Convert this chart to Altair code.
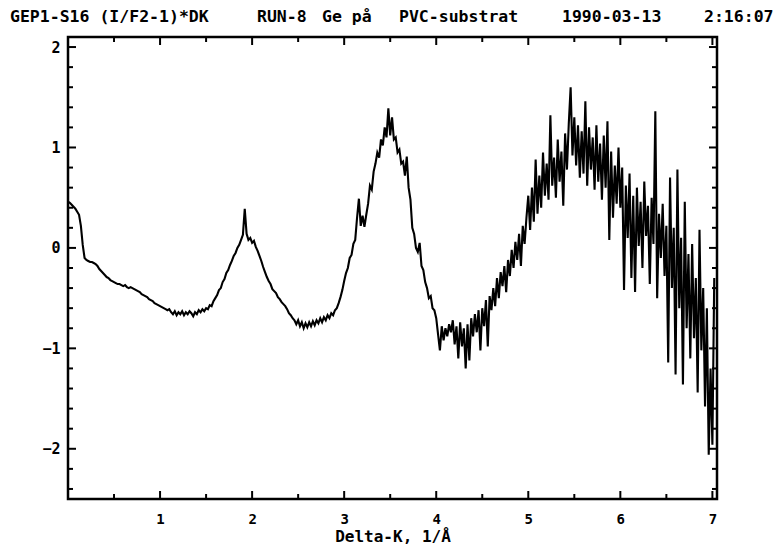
import altair as alt
import pandas as pd

# ---- data (step 0.02 in Delta-K) ----
seg_a = [0.46, 0.45, 0.43, 0.41, 0.39, 0.36, 0.33, 0.22, 0.03, -0.10,
         -0.12, -0.13, -0.14, -0.14, -0.15, -0.16, -0.18, -0.21, -0.23, -0.25,
         -0.27, -0.29, -0.30, -0.32, -0.33, -0.34, -0.35, -0.36, -0.36, -0.37,
         -0.38, -0.37, -0.39, -0.40, -0.39, -0.40, -0.41, -0.42, -0.43, -0.44,
         -0.46, -0.47, -0.48, -0.49, -0.51, -0.52, -0.53, -0.55, -0.56, -0.57]
seg_b = [-0.58, -0.59, -0.60, -0.61, -0.62, -0.61, -0.64, -0.66, -0.63, -0.67,
         -0.64, -0.66, -0.63, -0.67, -0.64, -0.66, -0.63, -0.65, -0.68, -0.64,
         -0.66, -0.62, -0.64, -0.61, -0.63, -0.60, -0.61, -0.57, -0.58, -0.53,
         -0.50, -0.47, -0.42, -0.40, -0.34, -0.31, -0.25, -0.22, -0.17, -0.13,
         -0.08, -0.05, 0.00, 0.03, 0.08, 0.13, 0.39, 0.14, 0.08, 0.10]
seg_c = [0.05, 0.07, 0.01, -0.03, -0.08, -0.13, -0.19, -0.24, -0.29, -0.33,
         -0.36, -0.41, -0.43, -0.45, -0.49, -0.51, -0.54, -0.56, -0.58, -0.61,
         -0.65, -0.67, -0.70, -0.72, -0.76, -0.72, -0.78, -0.74, -0.80, -0.75,
         -0.79, -0.74, -0.78, -0.73, -0.77, -0.72, -0.75, -0.70, -0.74, -0.69,
         -0.72, -0.67, -0.70, -0.65, -0.67, -0.62, -0.60, -0.55, -0.49, -0.42]
seg_d = [-0.33, -0.25, -0.20, -0.10, -0.07, 0.04, 0.08, 0.30, 0.49, 0.22,
         0.32, 0.21, 0.33, 0.44, 0.62, 0.58, 0.76, 0.84, 0.95, 0.90,
         1.08, 1.02, 1.20, 1.10, 1.39, 1.12, 1.30, 1.08, 1.10, 0.95,
         0.98, 0.84, 0.86, 0.72, 0.91, 0.60, 0.48, 0.20, 0.14, 0.00,
         -0.04, 0.05, -0.18, -0.22, -0.34, -0.40, -0.50, -0.48, -0.60, -0.62]
seg_e = [-0.70, -0.86, -1.02, -0.78, -0.92, -0.80, -0.88, -0.76, -0.84, -0.72,
         -0.96, -0.78, -1.10, -0.74, -0.98, -0.80, -1.20, -0.76, -1.12, -0.70,
         -0.88, -0.66, -0.84, -0.62, -1.02, -0.60, -0.78, -0.52, -0.98, -0.48,
         -0.62, -0.40, -0.58, -0.30, -0.50, -0.24, -0.38, -0.18, -0.44, -0.12,
         -0.28, -0.02, -0.20, 0.06, -0.12, 0.14, -0.18, 0.22, 0.04, 0.30]
seg_f = [0.52, 0.18, 0.60, 0.26, 0.88, 0.34, 0.72, 0.40, 0.95, 0.52,
         0.84, 0.48, 1.32, 0.62, 0.90, 0.50, 1.08, 0.66, 0.96, 0.42,
         1.14, 0.78, 1.24, 1.60, 0.92, 1.30, 0.82, 1.22, 0.70, 1.16,
         0.74, 1.46, 0.62, 1.20, 0.78, 1.10, 0.58, 1.22, 0.66, 1.04,
         0.48, 1.12, 0.60, 1.26, 0.08, 0.96, 0.30, 0.82, 0.44, 1.00]
seg_g = [0.40, 0.80, -0.42, 0.62, 0.10, 0.74, -0.30, 0.52, -0.44, 0.60,
         0.02, 0.46, -0.20, 0.66, 0.12, 0.42, -0.36, 0.50, 0.04, 1.36,
         -0.50, 0.34, -0.10, 0.44, -0.28, 0.22, -1.14, 0.70, -0.40, 0.20,
         -1.26, 0.78, -0.60, 0.10, -1.36, 0.46, -0.80, -0.06, -1.10, 0.04,
         -0.90, -0.30, -1.44, 0.18, -1.02, -0.40, -1.58, -0.60, -2.06, -1.20,
         -1.96, -0.30]

y_vals = seg_a + seg_b + seg_c + seg_d + seg_e + seg_f + seg_g
x_step = 0.02
x_vals = [round(i * x_step, 2) for i in range(len(y_vals))]

x_major = [1, 2, 3, 4, 5, 6, 7]
x_minor = [0.5, 1.5, 2.5, 3.5, 4.5, 5.5, 6.5]
y_major = [-2, -1, 0, 1, 2]
y_minor = [-2.4, -2.2, -1.8, -1.6, -1.4, -1.2, -0.8, -0.6, -0.4, -0.2,
           0.2, 0.4, 0.6, 0.8, 1.2, 1.4, 1.6, 1.8]

title_parts = ["GEP1-S16 (I/F2-1)*DK", "RUN-8", "Ge på", "PVC-substrat",
               "1990-03-13", "2:16:07"]

# ---- layout ----
W, H = 649, 462
FONT = "DejaVu Sans Mono"

df = pd.DataFrame({"x": x_vals, "y": y_vals})
xs = alt.Scale(domain=[0, 7.05], nice=False, zero=False)
ys = alt.Scale(domain=[-2.5, 2.1], nice=False, zero=False)

ax_x = alt.Axis(values=x_major, format="d", title="Delta-K, 1/Å",
                grid=False, ticks=False, domain=False,
                labelPadding=13, titlePadding=2,
                labelFont=FONT, labelFontWeight="bold", labelFontSize=14,
                labelColor="black", titleFont=FONT, titleFontWeight="bold",
                titleFontSize=16, titleColor="black")
ax_y = alt.Axis(values=y_major, format="d", title=None,
                grid=False, ticks=False, domain=False,
                labelPadding=8, labelFont=FONT, labelFontWeight="bold",
                labelFontSize=15, labelColor="black")

line = alt.Chart(df).mark_line(color="black", strokeWidth=2.1, clip=True).encode(
    x=alt.X("x:Q", scale=xs, axis=ax_x),
    y=alt.Y("y:Q", scale=ys, axis=ax_y),
)

def xticks(vals, length):
    d = pd.DataFrame({"t": vals})
    bot = alt.Chart(d).mark_rule(color="black", strokeWidth=2).encode(
        x=alt.X("t:Q", scale=xs, axis=ax_x), y=alt.value(H), y2=alt.value(H - length))
    top = alt.Chart(d).mark_rule(color="black", strokeWidth=2).encode(
        x=alt.X("t:Q", scale=xs, axis=ax_x), y=alt.value(0), y2=alt.value(length))
    return [bot, top]

def yticks(vals, length):
    d = pd.DataFrame({"t": vals})
    left = alt.Chart(d).mark_rule(color="black", strokeWidth=2).encode(
        y=alt.Y("t:Q", scale=ys, axis=ax_y), x=alt.value(0), x2=alt.value(length))
    right = alt.Chart(d).mark_rule(color="black", strokeWidth=2).encode(
        y=alt.Y("t:Q", scale=ys, axis=ax_y), x=alt.value(W), x2=alt.value(W - length))
    return [left, right]

tick_layers = xticks(x_major, 8) + xticks(x_minor, 5) + yticks(y_major, 8) + yticks(y_minor, 5)

title_x = [-58, 189, 254, 331, 494, 636]
title_layers = []
for txt, tx in zip(title_parts, title_x):
    title_layers.append(
        alt.Chart(pd.DataFrame({"t": [txt]})).mark_text(
            align="left", baseline="middle", font=FONT, fontWeight="bold",
            fontSize=16.5, color="black").encode(
            text="t:N", x=alt.value(tx), y=alt.value(-20)))

chart = alt.layer(line, *tick_layers, *title_layers).properties(
    width=W, height=H,
    autosize=alt.AutoSizeParams(type="none"),
    padding={"left": 68, "top": 37, "right": 62, "bottom": 51},
    background="white",
).configure_view(stroke="black", strokeWidth=2.5)

chart.save("out.html", embed_options={"renderer": "svg", "actions": False})
